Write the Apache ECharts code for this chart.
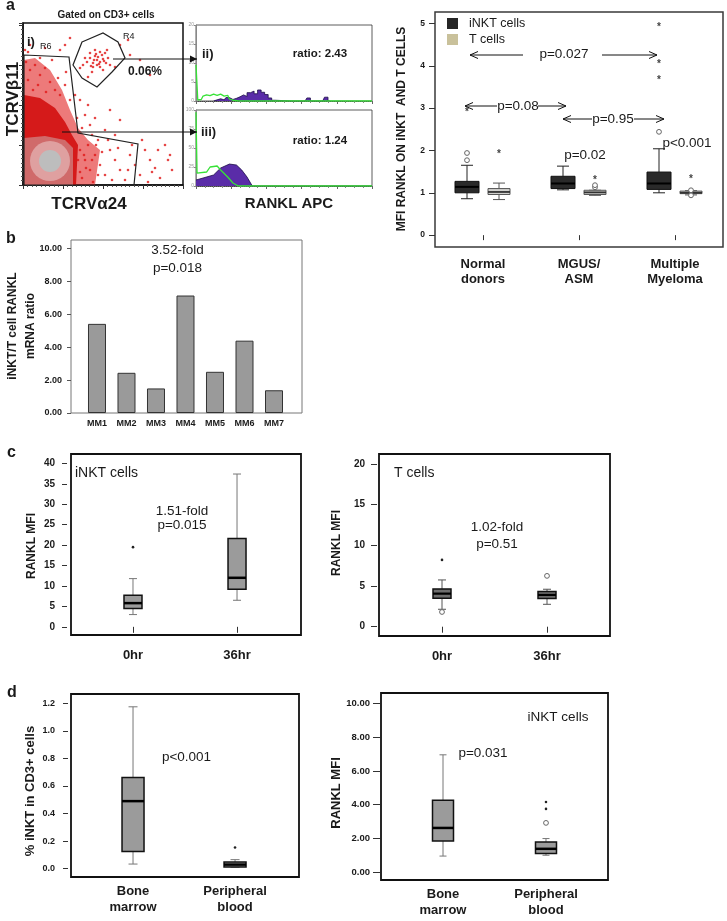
<!DOCTYPE html>
<html><head><meta charset="utf-8">
<script src="https://cdn.jsdelivr.net/npm/echarts@6/dist/echarts.min.js"></script>
<style>html,body{margin:0;padding:0;background:#fff}#c{width:727px;height:921px}</style>
</head><body><div id="c"></div>
<script>
// ================= DATA =================
// Panel a (i): flow dot plot, channel units (x: TCRVα24, y: TCRVβ11)
const flowDots = [
 [64,123],[67,127],[70,122],[72,129],[74,125],[75,128],[77,123],[79,130],[80,126],[83,122],[70,118],[74,120],[77,118],[67,132],[72,135],[77,133],[82,132],[85,127],[57,117],[60,120],[87,120],[69,113],[80,115],[84,135],[92,118],[65,108],[62,127],[71,125],[76,121],[73,131],[68,119],[81,124],
 [2,135],[7,140],[5,133],[22,137],[37,135],[3,123],[7,115],[12,120],[17,110],[22,117],[5,105],[15,100],[27,103],[32,95],[37,90],[10,95],[23,93],[35,107],[43,113],[29,125],[17,127],[42,100],[47,85],
 [57,85],[62,70],[67,60],[72,67],[82,55],[65,80],[87,75],[97,65],[75,45],[52,90],[59,57],[54,67],[69,50],[92,50],
 [97,140],[107,130],[105,145],[117,125],[42,140],[47,147],[127,110],
 [57,35],[62,25],[67,15],[72,30],[77,20],[82,10],[87,35],[92,25],[97,15],[102,5],[107,30],[59,7],[65,40],[70,3],[85,45],[95,37],[112,20],[117,10],[122,35],[127,25],[132,17],[137,7],[142,40],[147,30],[149,15],[125,3],[105,15],[89,5],[75,10],[63,17],[119,45],[109,40],[135,35],[145,25],[129,13],[55,25],[57,13],[61,30],[69,25],[79,33],[73,40]
];
const gateR6 = [[1,130],[46,128],[55,52],[115,41],[111,0],[1,0]];
const gateR4 = [[59,143],[80,152],[95,143],[102,127],[89,113],[74,98],[59,107],[50,120]];
const densityOuter = [[1,125],[12,127],[27,115],[39,95],[47,75],[55,57],[65,45],[77,35],[72,0],[1,0]];
const densityInner = [[1,90],[17,87],[32,77],[42,63],[49,50],[55,40],[53,0],[1,0]];
const densityPink = [[1,47],[22,49],[42,45],[50,37],[50,0],[1,0]];
const densitySpots = [[27,24,20],[27,24,11]];
// Panel a (ii/iii): RANKL APC histograms
const hist2Green = [[0,9.5],[1,0.3],[3,0.4],[4,1.3],[6,1.6],[8,1.4],[10,1.8],[12,1.5],[14,1.8],[16,1.3],[18,1.5],[19,0.5],[21,0.2],[24,0],[100,0]];
const hist2Purple = [[10,0],[12,0.3],[14,0.6],[16,0.3],[18,0.9],[20,0.4],[22,0.7],[24,1.1],[26,1.6],[28,1.2],[30,2.2],[32,2.6],[34,1.9],[36,2.9],[38,2.3],[40,1.7],[42,0.8],[44,0.2],[46,0],[62,0],[64,0.8],[66,0],[72,0],[74,1.0],[76,0]];
const hist3Green = [[0,97],[0.6,17],[6,18.4],[8,25],[12,26.3],[14,21],[18,11.8],[21,3.9],[24,0],[100,0]];
const hist3Purple = [[0,7.9],[4,10.5],[10,14.5],[14,23.7],[19,28.9],[23,27.6],[26,21],[29,11.8],[31,3.9],[32,0],[100,0]];
// Panel a: MFI RANKL boxplots  [group, min, Q1, median, Q3, max]
const groupsA = ['Normal\ndonors','MGUS/\nASM','Multiple\nMyeloma'];
const inktBoxA = [[0,0.86,1.00,1.14,1.27,1.65],[1,1.07,1.10,1.22,1.39,1.63],[2,1.00,1.08,1.22,1.49,2.04]];
const tBoxA = [[0,0.84,0.96,1.02,1.10,1.23],[1,0.94,0.96,1.01,1.06,1.06],[2,0.95,0.98,1.00,1.04,1.05]];
// outliers [group, value, kind]  kind 0 = circle, 1 = star, 2 = dot
const inktOutA = [[0,1.94,0],[0,1.77,0],[0,2.95,1],[2,2.44,0],[2,3.72,1],[2,4.10,1],[2,4.97,1]];
const tOutA = [[0,1.96,1],[1,1.13,0],[1,1.18,0],[1,1.36,1],[2,1.06,0],[2,0.94,0],[2,1.38,1]];
const ticksA = [0,1,2,3,4,5];
// Panel b
const patientsB = ['MM1','MM2','MM3','MM4','MM5','MM6','MM7'];
const ratioB = [5.41,2.44,1.49,7.13,2.50,4.39,1.38];
// Panel c  [position, min, Q1, median, Q3, max]
const timesC = ['0hr','36hr'];
const inktBoxC = [[1,3.0,4.5,5.8,7.7,11.8],[2,6.5,9.2,12.0,21.6,37.4]];
const inktOutC = [[1,19.5,2]];
const tBoxC = [[1,2.14,3.49,4.06,4.64,5.74],[2,2.75,3.45,3.90,4.31,4.60]];
const tOutC = [[1,8.2,2],[1,1.81,0],[2,6.24,0]];
const ticksC1 = [0,5,10,15,20,25,30,35,40];
const ticksC2 = [0,5,10,15,20];
// Panel d
const sitesD = ['Bone\nmarrow','Peripheral\nblood'];
const pctBoxD = [[1,0.033,0.124,0.49,0.662,1.175],[2,0.010,0.012,0.029,0.048,0.065]];
const pctOutD = [[2,0.153,2]];
const mfiBoxD = [[1,0.95,1.85,2.62,4.26,6.96],[2,1.00,1.11,1.38,1.79,1.99]];
const mfiOutD = [[2,2.92,0],[2,3.75,2],[2,4.16,2]];
const ticksD1 = [0,0.2,0.4,0.6,0.8,1.0,1.2];
const ticksD2 = [0,2,4,6,8,10];

// ================= HELPERS =================
const FONT = "'Liberation Sans', Arial, Helvetica, sans-serif";
const INK = '#1a1a1a';

function txt(text, x, y, size, bold, o) {
  o = o || {};
  return {type:'text', x, y, z:100, rotation:o.rot||0,
    style:{text, fontSize:size, fontWeight:bold?'bold':'normal', fontFamily:FONT, fill:o.color||INK,
      textAlign:o.align||'center', textVerticalAlign:'middle', lineHeight:o.lh}};
}
function arrow(x1, y, x2, open) {
  const d = x2 > x1 ? 1 : -1;
  const els = [{type:'line', z:100, shape:{x1, y1:y, x2, y2:y}, style:{stroke:'#111', lineWidth:1}}];
  if (open) els.push({type:'polyline', z:100, shape:{points:[[x2-d*8,y-3.5],[x2,y],[x2-d*8,y+3.5]]}, style:{stroke:'#111', lineWidth:1, fill:'none'}});
  else els.push({type:'polygon', z:100, shape:{points:[[x2-d*7,y-3.5],[x2,y],[x2-d*7,y+3.5]]}, style:{fill:'#111'}});
  return els;
}
function polySeries(gi, pts, style, z) {
  return {type:'custom', xAxisIndex:gi, yAxisIndex:gi, silent:true, z:z||2, data:[pts[0]], encode:{x:0,y:1},
    renderItem:(p, api) => ({type:'polygon', shape:{points:pts.map(pt => api.coord(pt))}, style})};
}
function boxSeries(gi, data, st, name) {
  return {type:'custom', name, xAxisIndex:gi, yAxisIndex:gi, data, z:3,
    encode:{x:0, y:[1,2,3,4,5]}, itemStyle:{color:st.legend||st.fill},
    renderItem(params, api) {
      const x = api.value(0);
      const P = i => api.coord([x, api.value(i)]);
      const lo = P(1), q1 = P(2), md = P(3), q3 = P(4), hi = P(5);
      const cx = lo[0] + (st.offset||0), hw = st.width/2, cw = st.cap/2;
      const wl = {stroke:st.whisker, lineWidth:st.wlw||1};
      return {type:'group', children:[
        {type:'line', shape:{x1:cx,y1:hi[1],x2:cx,y2:q3[1]}, style:wl},
        {type:'line', shape:{x1:cx,y1:q1[1],x2:cx,y2:lo[1]}, style:wl},
        {type:'line', shape:{x1:cx-cw,y1:hi[1],x2:cx+cw,y2:hi[1]}, style:wl},
        {type:'line', shape:{x1:cx-cw,y1:lo[1],x2:cx+cw,y2:lo[1]}, style:wl},
        {type:'rect', shape:{x:cx-hw,y:q3[1],width:hw*2,height:Math.max(1,q1[1]-q3[1])}, style:{fill:st.fill, stroke:st.stroke, lineWidth:st.lw}},
        {type:'line', shape:{x1:cx-hw,y1:md[1],x2:cx+hw,y2:md[1]}, style:{stroke:st.median, lineWidth:st.mw}}
      ]};
    }};
}
function outSeries(gi, data, offset) {
  return {type:'custom', xAxisIndex:gi, yAxisIndex:gi, data, z:4, encode:{x:0,y:1},
    renderItem(params, api) {
      const p = api.coord([api.value(0), api.value(1)]);
      const k = api.value(2), x = p[0] + (offset||0);
      if (k === 0) return {type:'circle', shape:{cx:x, cy:p[1], r:2.4}, style:{fill:'#fff', stroke:'#666', lineWidth:1}};
      if (k === 1) return {type:'text', x, y:p[1]+2.5, style:{text:'*', fontSize:10, fontWeight:'bold', fontFamily:FONT, fill:'#444', textAlign:'center', textVerticalAlign:'middle'}};
      return {type:'circle', shape:{cx:x, cy:p[1], r:1.3}, style:{fill:'#222'}};
    }};
}
const G = (left, top, width, height, bc, bw) => ({left, top, width, height, show:true, borderColor:bc, borderWidth:bw, containLabel:false, outerBoundsMode:'none'});
const lab = (size, extra) => Object.assign({color:INK, fontSize:size, fontWeight:'bold', fontFamily:FONT}, extra||{});

// ================= OPTION =================
const chart = echarts.init(document.getElementById('c'), null, {renderer:'canvas'});
const flowAx = {type:'value', min:0, interval:40, axisLabel:{show:false}, splitLine:{show:false},
  axisLine:{show:true, lineStyle:{color:'#111', width:1.5}}, axisTick:{length:4, lineStyle:{color:'#333'}},
  minorTick:{show:true, splitNumber:9, length:2, lineStyle:{color:'#555'}}};
const histX = {type:'value', min:0, max:100, interval:20, axisLabel:{show:false}, splitLine:{show:false},
  axisLine:{show:true, lineStyle:{color:'#444', type:'dotted'}}, axisTick:{length:3, lineStyle:{color:'#666'}},
  minorTick:{show:true, splitNumber:4, length:2, lineStyle:{color:'#888'}}};
const histY = (max, iv) => ({type:'value', min:0, max, interval:iv, splitLine:{show:false},
  axisLine:{show:true, lineStyle:{color:'#888'}}, axisTick:{length:2, lineStyle:{color:'#888'}},
  axisLabel:{fontSize:5, color:'#999', margin:2}});
const valY = (min, max, ticks, fmt, size, offset, tlen, margin) => ({type:'value', min, max, offset,
  splitLine:{show:false}, axisLine:{show:false},
  axisTick:{show:true, length:tlen, customValues:ticks, lineStyle:{color:'#333'}},
  axisLabel:lab(size, {customValues:ticks, margin, formatter:fmt})});
const posX = (min, max, names, ticks, offset, margin, size, lh) => ({type:'value', min, max, offset,
  splitLine:{show:false}, axisLine:{show:false},
  axisTick:{show:ticks, length:6, customValues:names.map((n,i)=>i+1), lineStyle:{color:'#333'}},
  axisLabel:lab(size, {customValues:names.map((n,i)=>i+1), margin, lineHeight:lh, formatter:v => names[Math.round(v)-1]})});

const option = {
  animation:false,
  backgroundColor:'#fff',
  textStyle:{fontFamily:FONT},
  legend:{data:['iNKT cells','T cells'], orient:'vertical', left:447, top:17, itemWidth:11, itemHeight:11, itemGap:3,
    icon:'rect', selectedMode:false, padding:0, textStyle:{fontSize:12.5, color:INK, padding:[0,0,0,6], fontFamily:FONT}},
  grid:[
    G(23,23,160,162,'#111',1.5),
    G(196,25,176,76,'#333',0.8),
    G(196,110,176,76,'#333',0.8),
    G(435,12,288,235,'#3a3a3a',1.5),
    G(71,240,231,173,'#777',1),
    G(71,454,230,181,'#111',1.8),
    G(379,454,231,182,'#111',1.8),
    G(71,694,228,183,'#111',1.8),
    G(381,693,227,187,'#111',1.8)
  ],
  xAxis:[
    Object.assign({gridIndex:0, max:160}, flowAx),
    Object.assign({gridIndex:1}, histX),
    Object.assign({gridIndex:2}, histX),
    {gridIndex:3, type:'category', data:groupsA, boundaryGap:true, axisLine:{show:false},
      axisTick:{show:true, alignWithLabel:true, length:5, lineStyle:{color:'#333'}},
      axisLabel:lab(13, {interval:0, margin:10, lineHeight:15})},
    Object.assign({gridIndex:4}, posX(0.119, 7.949, patientsB, false, 0, 5, 9, 11)),
    Object.assign({gridIndex:5}, posX(0.404, 2.615, timesC, true, 2, 11, 13, 15)),
    Object.assign({gridIndex:6}, posX(0.40, 2.60, timesC, true, 2, 11, 13, 15)),
    Object.assign({gridIndex:7}, posX(0.392, 2.627, sitesD, false, 0, 6, 13, 16)),
    Object.assign({gridIndex:8}, posX(0.398, 2.602, sitesD, false, 0, 6, 13, 16))
  ],
  yAxis:[
    Object.assign({gridIndex:0, max:162}, flowAx),
    Object.assign({gridIndex:1}, histY(20,5)),
    Object.assign({gridIndex:2}, histY(100,25)),
    Object.assign({gridIndex:3}, valY(-0.28, 5.27, ticksA, v => String(v), 8.5, 0, 6, 10)),
    {gridIndex:4, type:'value', min:0, max:10.5, interval:2, splitLine:{show:false}, axisLine:{show:false},
      axisTick:{show:true, length:4, lineStyle:{color:'#555'}}, axisLabel:lab(9, {margin:9, formatter:v => v.toFixed(2)})},
    Object.assign({gridIndex:5}, valY(-2, 42.3, ticksC1, v => String(v), 10, 4, 5, 12)),
    Object.assign({gridIndex:6}, valY(-1.14, 21.2, ticksC2, v => String(v), 10, 2, 6, 12)),
    Object.assign({gridIndex:7}, valY(-0.061, 1.268, ticksD1, v => v.toFixed(1), 9, 3, 5, 13)),
    Object.assign({gridIndex:8}, valY(-0.47, 10.63, ticksD2, v => v.toFixed(2), 9.5, 1, 7, 10))
  ],
  series:[
    // flow density + dots + gates
    polySeries(0, densityOuter, {fill:'rgba(226,40,40,0.62)'}, 1),
    polySeries(0, densityInner, {fill:'rgba(210,15,15,0.9)'}, 1),
    polySeries(0, densityPink, {fill:'#d06a6a'}, 1),
    {type:'custom', xAxisIndex:0, yAxisIndex:0, silent:true, z:1, data:densitySpots, encode:{x:0,y:1},
      renderItem:(p, api) => {const c = api.coord([api.value(0), api.value(1)]); const r = api.size([api.value(2), 0])[0];
        return {type:'circle', shape:{cx:c[0], cy:c[1], r}, style:{fill:['#dfa0a0','#bdbdbd'][p.dataIndex]}};}},
    {type:'scatter', xAxisIndex:0, yAxisIndex:0, data:flowDots, symbolSize:2.6, itemStyle:{color:'#e01818'}, z:2, silent:true},
    polySeries(0, gateR6, {fill:'none', stroke:'#222', lineWidth:1.2}, 3),
    polySeries(0, gateR4, {fill:'none', stroke:'#222', lineWidth:1.2}, 3),
    // histograms
    {type:'line', xAxisIndex:1, yAxisIndex:1, data:hist2Purple, step:'middle', symbol:'none', silent:true,
      lineStyle:{color:'#1c0c48', width:0.8}, areaStyle:{color:'#5a2ca8', opacity:1}, z:2},
    {type:'line', xAxisIndex:1, yAxisIndex:1, data:hist2Green, symbol:'none', silent:true, lineStyle:{color:'#36e236', width:1.3}, z:3},
    {type:'line', xAxisIndex:2, yAxisIndex:2, data:hist3Purple, symbol:'none', silent:true,
      lineStyle:{color:'#1c0c48', width:0.8}, areaStyle:{color:'#5a2ca8', opacity:1}, z:2},
    {type:'line', xAxisIndex:2, yAxisIndex:2, data:hist3Green, symbol:'none', silent:true, lineStyle:{color:'#36e236', width:1.3}, z:3},
    // panel a boxplots
    boxSeries(3, inktBoxA, {offset:-16, width:24, cap:12, fill:'#2a2a2a', stroke:'#111', lw:1, whisker:'#222', median:'#000', mw:2, legend:'#262626'}, 'iNKT cells'),
    boxSeries(3, tBoxA, {offset:16, width:22, cap:12, fill:'#d3d3d0', stroke:'#555', lw:1, whisker:'#555', median:'#333', mw:1.8, legend:'#c9c19b'}, 'T cells'),
    outSeries(3, inktOutA, -16),
    outSeries(3, tOutA, 16),
    // panel b bars
    {type:'bar', xAxisIndex:4, yAxisIndex:4, data:ratioB.map((v,i)=>[i+1, v]), barWidth:18,
      itemStyle:{color:'#9a9a9a', borderColor:'#333', borderWidth:1}, silent:true},
    // panel c
    boxSeries(5, inktBoxC, {width:18, cap:8, fill:'#9b9b9b', stroke:'#111', lw:1.5, whisker:'#777', median:'#000', mw:2.5}),
    outSeries(5, inktOutC, 0),
    boxSeries(6, tBoxC, {width:18, cap:8, fill:'#6e6e6e', stroke:'#111', lw:1.5, whisker:'#555', median:'#000', mw:2.2}),
    outSeries(6, tOutC, 0),
    // panel d
    boxSeries(7, pctBoxD, {width:22, cap:9, fill:'#9b9b9b', stroke:'#111', lw:1.5, whisker:'#777', median:'#000', mw:2.5}),
    outSeries(7, pctOutD, 0),
    boxSeries(8, mfiBoxD, {width:21, cap:7, fill:'#9b9b9b', stroke:'#111', lw:1.5, whisker:'#777', median:'#000', mw:2.5}),
    outSeries(8, mfiOutD, 0)
  ],
  graphic:[].concat(
    [
      txt('a', 6, 6, 16, true, {align:'left'}),
      txt('b', 6, 239, 16, true, {align:'left'}),
      txt('c', 7, 452.5, 16, true, {align:'left'}),
      txt('d', 7, 693, 16, true, {align:'left'}),
      // flow cytometry
      txt('Gated on CD3+ cells', 106, 15, 10, true),
      txt('i)', 27, 42.5, 13, true, {align:'left'}),
      txt('R6', 40, 47, 9, false, {align:'left'}),
      txt('R4', 123, 37, 9, false, {align:'left'}),
      txt('0.06%', 128, 72, 12, true, {align:'left'}),
      txt('TCRVβ11', 13, 99, 17, true, {rot:Math.PI/2}),
      txt('TCRVα24', 89, 204, 17, true),
      txt('ii)', 202, 54, 13, true, {align:'left'}),
      txt('ratio: 2.43', 320, 54, 11.5, true),
      txt('iii)', 201, 132, 13, true, {align:'left'}),
      txt('ratio: 1.24', 320, 141, 11.5, true),
      txt('RANKL APC', 289, 204, 15, true),
      // panel a boxplot
      txt('MFI RANKL ON iNKT  AND T CELLS', 402, 129, 12, true, {rot:Math.PI/2}),
      txt('p=0.027', 564, 54, 13.5, false),
      txt('p=0.08', 518, 106, 13.5, false),
      txt('p=0.95', 613, 119, 13.5, false),
      txt('p=0.02', 585, 155, 13.5, false),
      txt('p<0.001', 687, 143, 13.5, false),
      // panel b
      txt('3.52-fold', 177.5, 250, 13.5, false),
      txt('p=0.018', 177.5, 268, 13.5, false),
      txt('iNKT/T cell RANKL\nmRNA ratio', 22, 326, 12, true, {rot:Math.PI/2, lh:18}),
      // panel c
      txt('iNKT cells', 75, 473, 14, false, {align:'left'}),
      txt('1.51-fold', 182, 511, 13.5, false),
      txt('p=0.015', 182, 525, 13.5, false),
      txt('RANKL MFI', 32, 546, 12, true, {rot:Math.PI/2}),
      txt('T cells', 394, 473, 14, false, {align:'left'}),
      txt('1.02-fold', 497, 527, 13.5, false),
      txt('p=0.51', 497, 544, 13.5, false),
      txt('RANKL MFI', 337, 543, 12, true, {rot:Math.PI/2}),
      // panel d
      txt('p<0.001', 186.5, 757, 13.5, false),
      txt('% iNKT in CD3+ cells', 30, 791, 13, true, {rot:Math.PI/2}),
      txt('iNKT cells', 558, 717, 13.5, false),
      txt('p=0.031', 483, 753, 13.5, false),
      txt('RANKL MFI', 336, 793, 13, true, {rot:Math.PI/2})
    ],
    arrow(113, 59, 197, false), arrow(62, 132, 197, false),
    arrow(523, 55, 470, true), arrow(602, 55, 657, true),
    arrow(497, 106, 465, true), arrow(538, 106, 566, true),
    arrow(592, 119, 563, true), arrow(634, 119, 664, true)
  )
};
chart.setOption(option);
</script>
</body></html>
